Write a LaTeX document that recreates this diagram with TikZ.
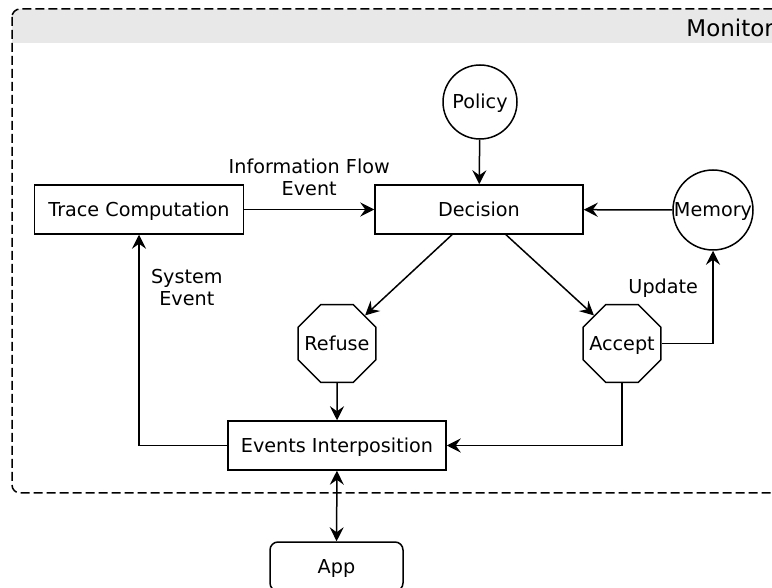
\documentclass[tikz,border=0pt]{standalone}
\usepackage{fontspec}
\setmainfont{DejaVu Sans}
\usetikzlibrary{shapes.geometric,arrows.meta,positioning}
\definecolor{headergray}{rgb}{0.91, 0.91, 0.91}

\tikzset{
    blockbox/.style={draw, line width=0.75pt, minimum width=104pt, minimum height=24.5pt, inner sep=0pt, text height=7pt, text depth=0pt},
    roundbox/.style={blockbox, rounded corners=4pt, minimum width=66.5pt},
    circlebox/.style={draw, circle, line width=0.75pt, inner sep=0pt, text height=7pt, text depth=0pt},
    octbox/.style={draw, regular polygon, regular polygon sides=8, line width=0.75pt, minimum size=42.2pt, inner sep=-3pt, text height=7pt, text depth=0pt},
    flow/.style={line width=0.75pt, -{Stealth[length=7pt, width=7pt, inset=2.5pt]}},
    flowboth/.style={line width=0.75pt, {Stealth[length=7pt, width=7pt, inset=2.5pt]}-{Stealth[length=7pt, width=7pt, inset=2.5pt]}},
}

\begin{document}
\begin{tikzpicture}[x=0.5pt, y=-0.5pt, font=\fontsize{9.6}{11}\selectfont]

    \useasboundingbox (0,0) rectangle (772,588);
    \clip (0,0) rectangle (772,588);

    \begin{scope}
        \clip (0,0) rectangle (800,43);
        \fill[headergray, rounded corners=4pt] (12,9) rectangle (795,493);
    \end{scope}
    \draw[dash pattern=on 4.5pt off 2pt, line width=0.75pt, rounded corners=4pt] (12,9) rectangle (795,493);
    \node[anchor=base west, inner sep=0pt, font=\fontsize{11.5}{13}\selectfont] (monitor) at (686,37) {Monitor};

    \node[circlebox, minimum size=37pt] (policy) at (480,102) {Policy};
    \node[blockbox] (decision) at (479,209.5) {Decision};
    \node[blockbox, minimum width=104.5pt] (trace) at (139,209.5) {Trace Computation};
    \node[circlebox, minimum size=40pt] (memory) at (713,210) {Memory};
    \node[octbox] (refuse) at (337,343.5) {Refuse};
    \node[octbox] (accept) at (622,343.5) {Accept};
    \node[blockbox, minimum width=109pt] (events) at (337,445.5) {Events Interposition};
    \node[roundbox] (app) at (336.5,566.5) {App};

    \draw[flow] (policy) -- (decision);
    \draw[flow] (trace) -- node[above=3pt, align=center] {Information Flow\\Event} (decision);
    \draw[flow] (memory) -- (decision);
    \draw[flow] ([xshift=-13.5pt]decision.south) -- (refuse.45);
    \draw[flow] ([xshift=13.5pt]decision.south) -- (accept.135);
    \draw[flow] (accept.east) -| node[pos=0.8, left=3.8pt] {Update} (memory.south);
    \draw[flow] (refuse) -- (events);
    \draw[flow] (accept.south) |- (events.east);
    \draw[flow] (events.west) -| node[pos=0.875, right=2.3pt, align=center] {System\\Event} (trace.south);
    \draw[flowboth] (events) -- (app);

\end{tikzpicture}
\end{document}
